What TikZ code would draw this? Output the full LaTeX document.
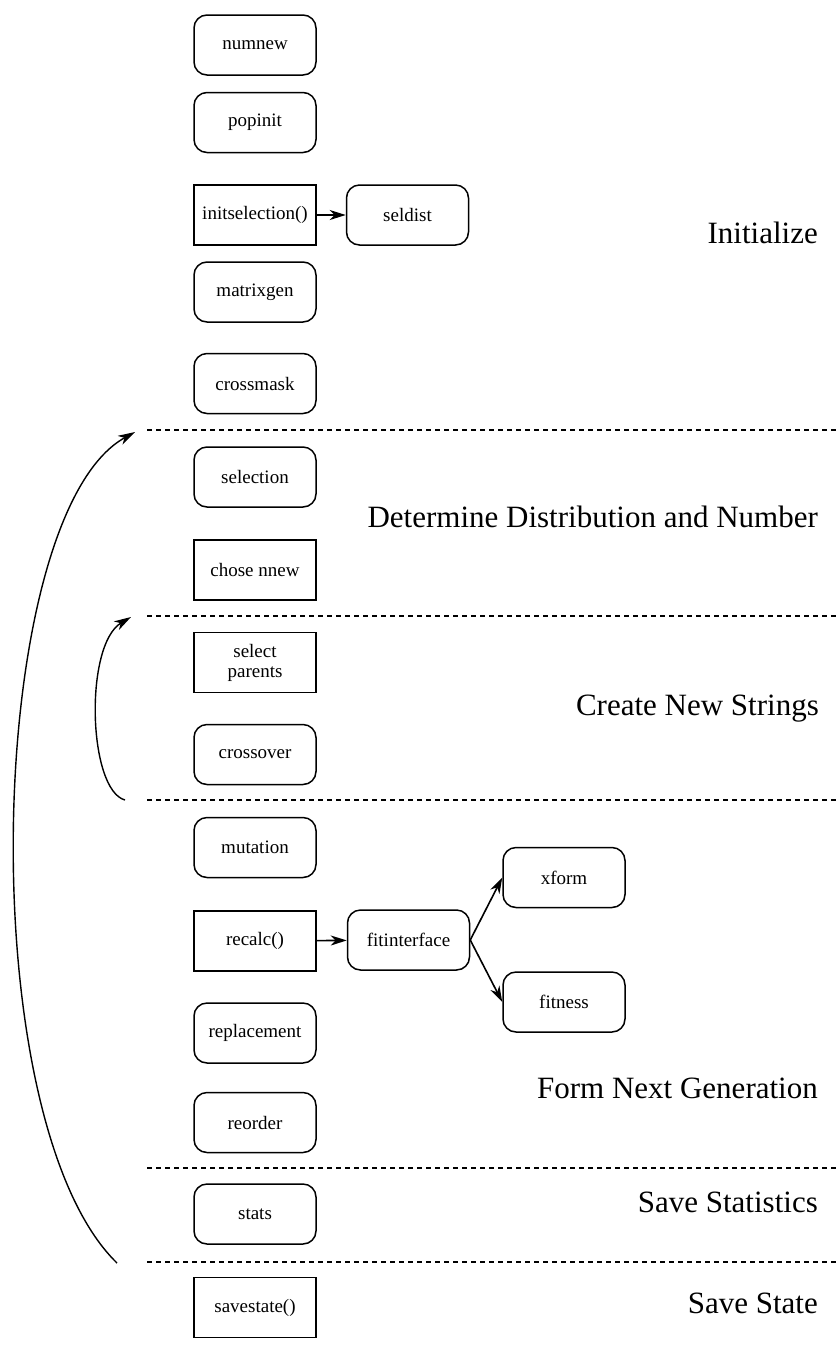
\documentclass[tikz,border=0pt]{standalone}
\usepackage{fontspec}
\setmainfont{Liberation Serif}
\usetikzlibrary{arrows.meta}
\begin{document}
\begin{tikzpicture}[x=1pt,y=-1pt,
	boxbase/.style={draw,line width=1.5pt,minimum width=122pt,minimum height=60pt,inner sep=0pt,align=center,font=\fontsize{19}{20}\selectfont},
	rbox/.style={boxbase,rounded corners=13pt},
	sbox/.style={boxbase},
	phase/.style={anchor=base east,inner sep=0pt,font=\fontsize{31}{34}\selectfont},
	phaseline/.style={line width=1.8pt,dash pattern=on 5pt off 4pt},
	callarrow/.style={line width=1.6pt,-{Stealth[length=16pt,width=10pt,inset=5pt]}},
	backarrow/.style={line width=1.4pt,-{Stealth[length=17pt,width=10pt,inset=5pt]}}]
		\useasboundingbox (0,0) rectangle (838,1345);
		\node[rbox] (numnew) at (255,45) {numnew};
		\node[rbox] (popinit) at (255,122.5) {popinit};
		\node[sbox] (initsel) at (255,215) {initselection()};
		\node[rbox] (seldist) at (407.5,215) {seldist};
		\node[rbox] (matrixgen) at (255,292) {matrixgen};
		\node[rbox] (crossmask) at (255,383.5) {crossmask};
		\node[rbox] (selection) at (255,477) {selection};
		\node[sbox] (chosennew) at (255,570) {chose nnew};
		\node[sbox] (selparents) at (255,662.5) {select\\parents};
		\node[rbox] (crossover) at (255,754.5) {crossover};
		\node[rbox] (mutation) at (255,847.5) {mutation};
		\node[sbox] (recalc) at (255,941) {recalc()};
		\node[rbox] (fitif) at (408.5,940) {fitinterface};
		\node[rbox] (xform) at (564,877.5) {xform};
		\node[rbox] (fitness) at (564,1002) {fitness};
		\node[rbox] (replacement) at (255,1033) {replacement};
		\node[rbox] (reorder) at (255,1122.5) {reorder};
		\node[rbox] (stats) at (255,1214) {stats};
		\node[sbox] (savestate) at (255,1307.5) {savestate()};
		\draw[callarrow] (initsel) -- (seldist);
		\draw[callarrow] (recalc) -- (fitif);
		\draw[callarrow] (fitif.east) -- (xform.west);
		\draw[callarrow] (fitif.east) -- (fitness.west);
		\foreach \y in {430,616,800,1168,1262}
			\draw[phaseline] (147,\y) -- (838,\y);
		\node[phase] (lblinit) at (818,243) {Initialize};
		\node[phase] (lbldist) at (818,527) {Determine Distribution and Number};
		\node[phase] (lblstrings) at (819,715) {Create New Strings};
		\node[phase] (lblgen) at (818,1098) {Form Next Generation};
		\node[phase] (lblstats) at (818,1212) {Save Statistics};
		\node[phase] (lblstate) at (818,1313) {Save State};
		\coordinate (genback) at (117,1263);
		\coordinate (gentop) at (135,432);
		\coordinate (strback) at (125,800);
		\coordinate (strtop) at (131,617);
		\draw[backarrow] (genback) .. controls (-30,1120) and (-15,515) .. (gentop);
		\draw[backarrow] (strback) .. controls (88,790) and (84,645) .. (strtop);
\end{tikzpicture}
\end{document}
